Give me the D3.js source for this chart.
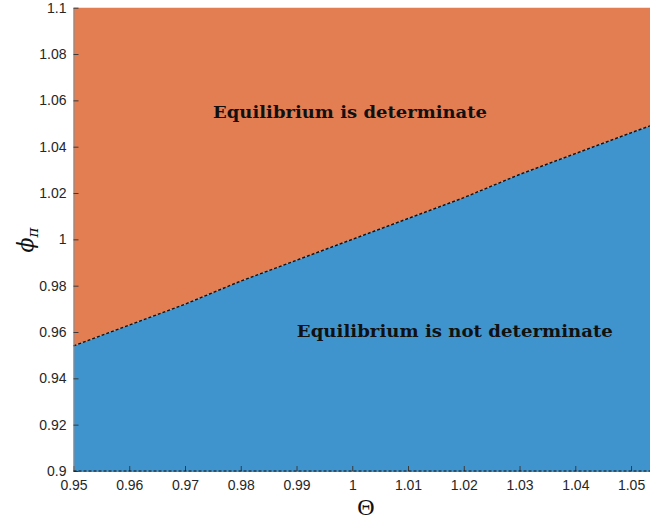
<!DOCTYPE html>
<html>
<head>
<meta charset="utf-8">
<script src="https://cdn.jsdelivr.net/npm/d3@7"></script>
<style>
  html, body { margin: 0; padding: 0; background: #fff; }
  svg { display: block; }
</style>
</head>
<body>
<svg id="chart" width="650" height="521"></svg>
<script>
// Determinacy boundary: Theta on the x axis, critical phi_pi on the y axis
const thetaValues = [0.95, 0.96, 0.97, 0.98, 0.99, 1.00, 1.01, 1.02, 1.03, 1.04, 1.05, 1.0534];
const boundaryPhi = [0.954, 0.963, 0.972, 0.982, 0.991, 1.000, 1.009, 1.018, 1.028, 1.037, 1.046, 1.049];

const xTicks = [0.95, 0.96, 0.97, 0.98, 0.99, 1.00, 1.01, 1.02, 1.03, 1.04, 1.05];
const xTickLabels = ["0.95", "0.96", "0.97", "0.98", "0.99", "1", "1.01", "1.02", "1.03", "1.04", "1.05"];
const yTicks = [0.90, 0.92, 0.94, 0.96, 0.98, 1.00, 1.02, 1.04, 1.06, 1.08, 1.10];
const yTickLabels = ["0.9", "0.92", "0.94", "0.96", "0.98", "1", "1.02", "1.04", "1.06", "1.08", "1.1"];

const regionLabels = ["Equilibrium is determinate", "Equilibrium is not determinate"];
const labelAnchors = [[0.9996, 1.0551], [1.0184, 0.9604]]; // [Theta, phi] centre of each label

const svg = d3.select("#chart");
const plotLeft = 73.5, plotRight = 650, plotTop = 7.7, plotBottom = 471;

const x = d3.scaleLinear().domain([0.95, 1.0534]).range([plotLeft, plotRight]);
const y = d3.scaleLinear().domain([0.9, 1.1]).range([plotBottom, plotTop]);

const pts = thetaValues.map((t, i) => [t, boundaryPhi[i]]);

// determinate region (above the boundary)
svg.append("path")
  .datum(pts)
  .attr("fill", "#E37E53")
  .attr("d", d3.area().x(d => x(d[0])).y0(y(1.1)).y1(d => y(d[1])));

// indeterminate region (below the boundary)
svg.append("path")
  .datum(pts)
  .attr("fill", "#4094CE")
  .attr("d", d3.area().x(d => x(d[0])).y0(y(0.9)).y1(d => y(d[1])));

// contour lines
svg.append("path")
  .datum(pts)
  .attr("fill", "none")
  .attr("stroke", "#111")
  .attr("stroke-width", 1.4)
  .attr("stroke-dasharray", "3,2")
  .attr("d", d3.line().x(d => x(d[0])).y(d => y(d[1])));

// axes
const tickColor = "#3a3a3a";
const xAxis = d3.axisBottom(x)
  .tickValues(xTicks)
  .tickFormat((d, i) => xTickLabels[i])
  .tickSizeInner(-5).tickSizeOuter(0).tickPadding(10);
const gx = svg.append("g").attr("transform", `translate(0,${plotBottom})`).call(xAxis);

const yAxis = d3.axisLeft(y)
  .tickValues(yTicks)
  .tickFormat((d, i) => yTickLabels[i])
  .tickSizeInner(-5).tickSizeOuter(0).tickPadding(7);
const gy = svg.append("g").attr("transform", `translate(${plotLeft},0)`).call(yAxis);

[gx, gy].forEach(g => {
  g.attr("font-size", null).attr("font-family", null);
  g.select(".domain").attr("stroke", "#8a8a8a").attr("stroke-width", 1);
  g.selectAll(".tick line").attr("stroke", tickColor).attr("stroke-width", 1);
  g.selectAll(".tick text")
    .attr("fill", "#262626")
    .style("font-family", "'Liberation Sans', Arial, sans-serif")
    .style("font-size", "14px");
});
gx.selectAll(".tick text").attr("dy", "0.71em").attr("y", 9);

// dashed contour along the lower edge
svg.append("line")
  .attr("x1", x(0.95)).attr("x2", x(1.0534))
  .attr("y1", y(0.9)).attr("y2", y(0.9))
  .attr("stroke", "#111")
  .attr("stroke-width", 1.2)
  .attr("stroke-dasharray", "3,2");

// region annotations
const labelWidths = [274, 316];
regionLabels.forEach((txt, i) => {
  svg.append("text")
    .attr("x", x(labelAnchors[i][0]))
    .attr("y", y(labelAnchors[i][1]))
    .attr("text-anchor", "middle")
    .attr("dominant-baseline", "central")
    .attr("textLength", labelWidths[i])
    .attr("lengthAdjust", "spacingAndGlyphs")
    .style("font-family", "'DejaVu Serif', serif")
    .style("font-weight", "bold")
    .style("font-size", "17px")
    .attr("fill", "#111")
    .text(txt);
});

// axis titles
svg.append("text")
  .attr("x", 366).attr("y", 515)
  .attr("text-anchor", "middle")
  .style("font-family", "'Liberation Serif', 'DejaVu Serif', serif")
  .style("font-size", "24px")
  .attr("fill", "#111")
  .text("Θ");

const yt = svg.append("text")
  .attr("transform", "translate(33,240) rotate(-90)")
  .attr("text-anchor", "middle")
  .style("font-family", "'DejaVu Serif', serif")
  .attr("fill", "#111");
yt.append("tspan").style("font-size", "22px").style("font-style", "italic").text("ϕ");
yt.append("tspan").style("font-size", "15px").style("font-style", "italic").attr("dy", 5).text("π");
</script>
</body>
</html>
